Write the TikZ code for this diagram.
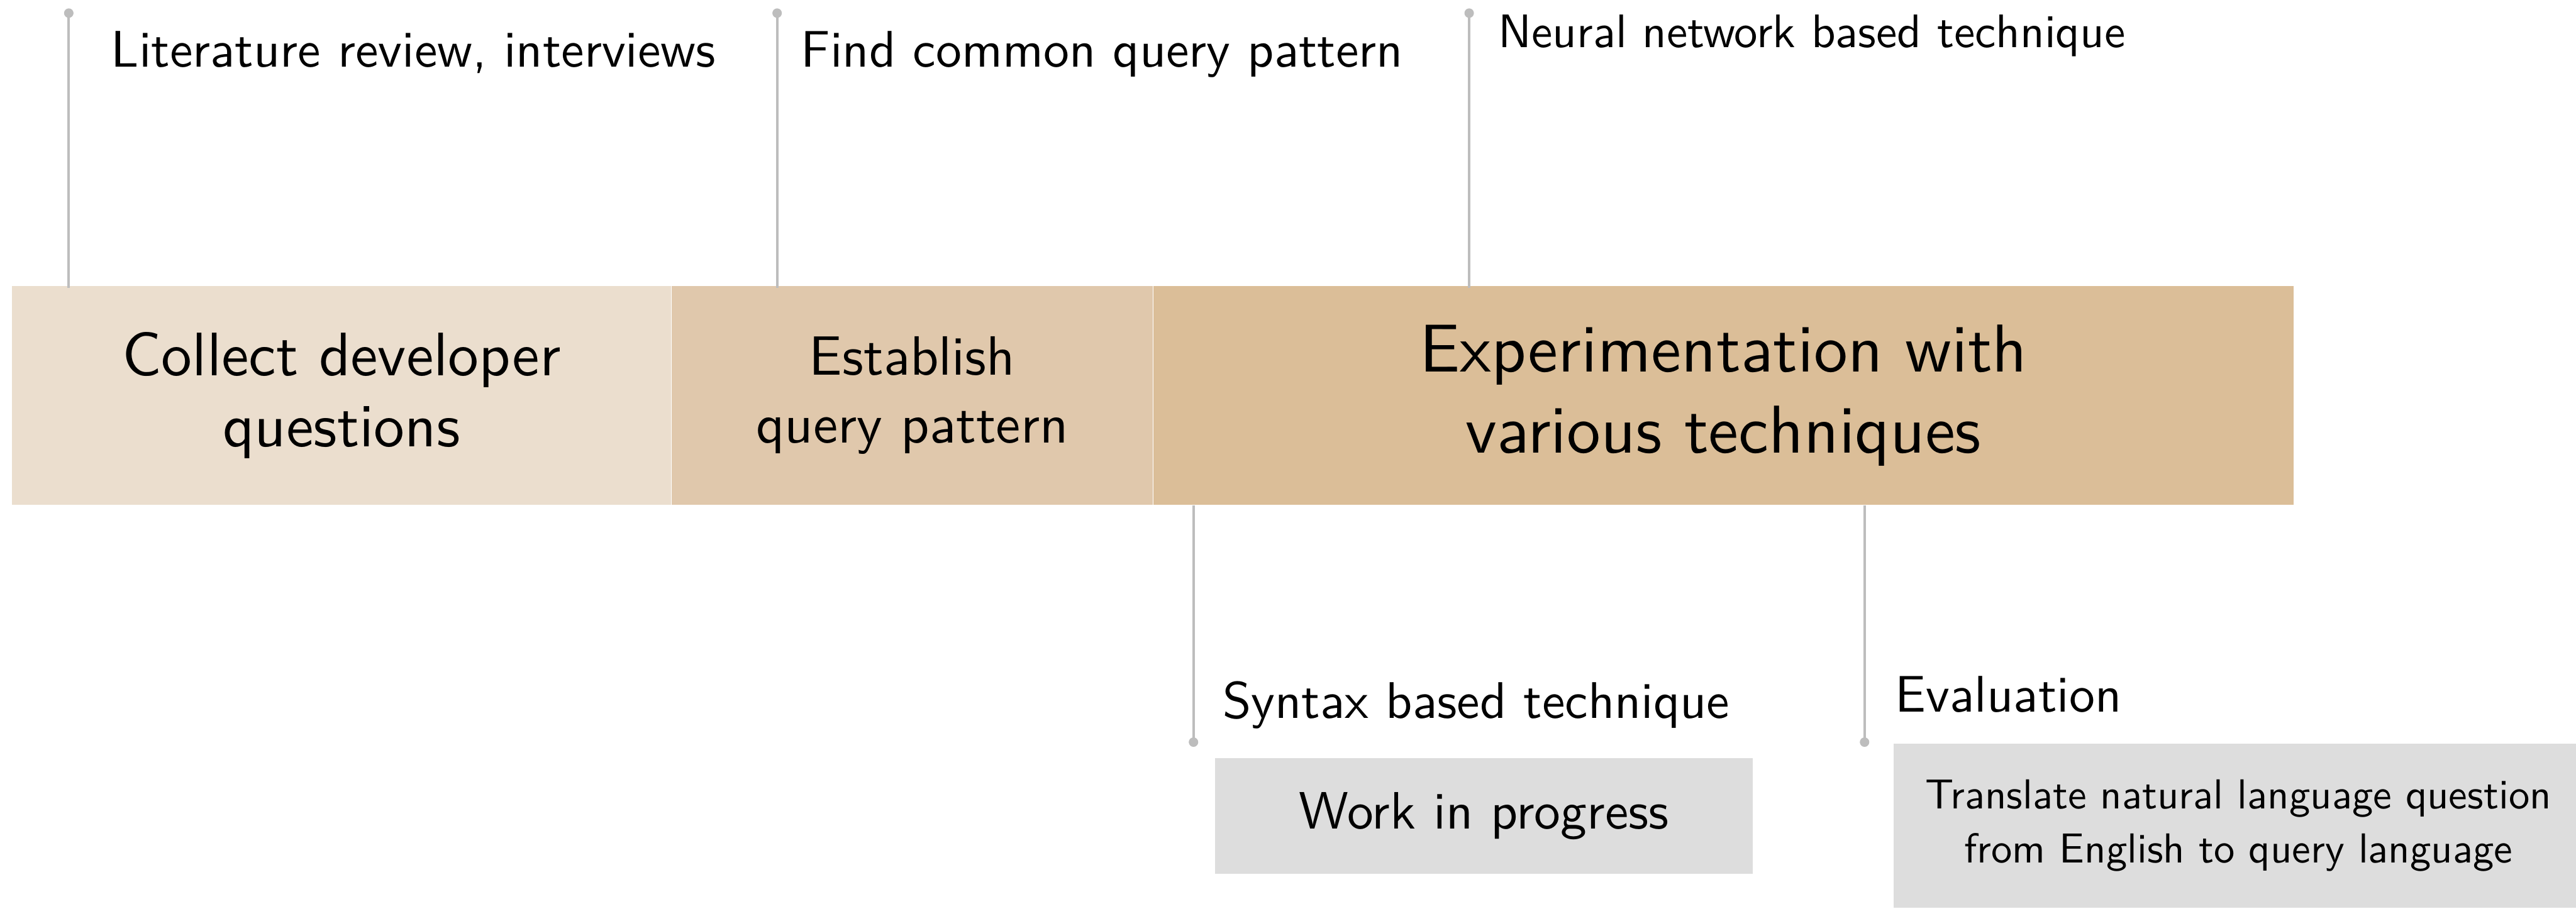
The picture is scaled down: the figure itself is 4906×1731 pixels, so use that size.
\documentclass[tikz,border=0pt]{standalone}
\usepackage{fontspec}
\setsansfont{lmsans10-regular.otf}
\usetikzlibrary{positioning}
\renewcommand{\familydefault}{\sfdefault}
\definecolor{phaseA}{RGB}{235,222,206}
\definecolor{phaseB}{RGB}{224,200,172}
\definecolor{phaseC}{RGB}{219,190,152}
\definecolor{noteGray}{RGB}{221,221,221}
\definecolor{stemGray}{RGB}{189,189,189}
\tikzset{
  phase/.style={inner sep=0pt, minimum height=41.7mm, align=center},
  note/.style={fill=noteGray, inner sep=0pt, align=center},
  tag/.style={inner sep=0pt, anchor=base west, font=\fontsize{27.9}{33}\selectfont},
  stem/.style={draw=stemGray, line width=0.5mm},
  knob/.style={fill=stemGray}
}
\begin{document}
\begin{tikzpicture}[x=0.1mm, y=-0.1mm]
    \useasboundingbox (0,0) rectangle (4906,1731);

    %phases
    \node[phase, fill=phaseA, minimum width=125.5mm, font=\fontsize{33.3}{38.3}\selectfont] (collect) at (650.5,753.5) {Collect developer\\questions};
    \node[phase, fill=phaseB, minimum width=91.6mm, right=0pt of collect, font=\fontsize{30}{36.9}\selectfont] (establish) {Establish\\query pattern};
    \node[phase, fill=phaseC, minimum width=217.1mm, right=0pt of establish, font=\fontsize{36.7}{43.7}\selectfont] (experiment) {Experimentation with\\various techniques};

    %stems above
    \coordinate (k1) at (131,25);
    \coordinate (k2) at (1480,25);
    \coordinate (k3) at (2798,25);
    \draw[stem, shorten >=-0.4mm] (k1) -- (k1 |- collect.north);
    \draw[stem, shorten >=-0.4mm] (k2) -- (k2 |- establish.north);
    \draw[stem, shorten >=-0.4mm] (k3) -- (k3 |- experiment.north);

    %stems below
    \coordinate (k4) at (2273,1414);
    \coordinate (k5) at (3551,1414);
    \draw[stem] (k4 |- experiment.south) -- (k4);
    \draw[stem] (k5 |- experiment.south) -- (k5);

    \foreach \k in {1,...,5} {
      \fill[knob] (k\k) circle[radius=0.9mm];
    }

    \node[tag] (lit) at (211,128) {Literature review, interviews};
    \node[tag] (find) at (1525,128) {Find common query pattern};
    \node[tag, font=\fontsize{25.5}{30}\selectfont] (neural) at (2853,91) {Neural network based technique};
    \node[tag] (syntax) at (2328,1368) {Syntax based technique};
    \node[tag] (eval) at (3609,1356) {Evaluation};

    \node[note, minimum width=102.5mm, minimum height=22mm, font=\fontsize{28.5}{34}\selectfont] (wip) at (2826,1555) {Work in progress};
    \node[note, minimum width=131.4mm, minimum height=31.3mm, font=\fontsize{22.7}{29.5}\selectfont] (translate) at (4263,1573) {Translate natural language question\\from English to query language};
\end{tikzpicture}
\end{document}
